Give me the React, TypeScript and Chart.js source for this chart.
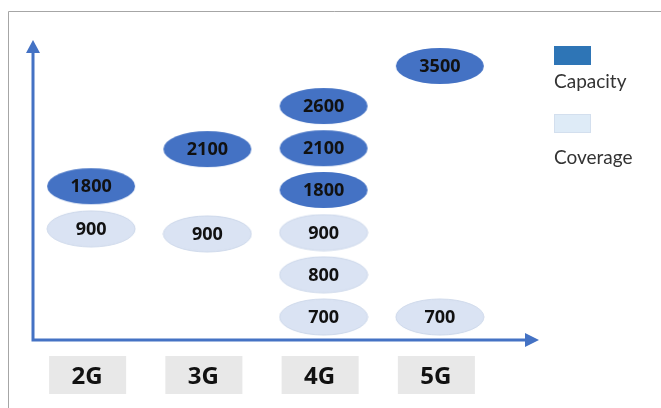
import { useEffect, useRef } from "react";
import { Chart, registerables } from "chart.js";

Chart.register(...registerables);

const categories = ["2G", "3G", "4G", "5G"];
const capacityCategory = [0, 1, 2, 2, 2, 3];
const capacityBand = [1800, 2100, 2600, 2100, 1800, 3500];
const capacityLevel = [3.1, 3.98, 5.0, 4.0, 3.01, 5.95];
const coverageCategory = [0, 1, 2, 2, 2, 3];
const coverageBand = [900, 900, 900, 800, 700, 700];
const coverageLevel = [2.09, 1.97, 2.0, 1.0, 0, 0];
const legendLabels = ["Capacity", "Coverage"];

const AXIS = "#4472C4";
const DARK = "#4472C4";
const LIGHT = "#DAE3F3";

function ellipseImage(fill: string, stroke?: string) {
  const c = document.createElement("canvas");
  c.width = 90;
  c.height = 38;
  const g = c.getContext("2d")!;
  g.beginPath();
  g.ellipse(45, 19, 44, 18, 0, 0, Math.PI * 2);
  g.fillStyle = fill;
  g.fill();
  if (stroke) {
    g.strokeStyle = stroke;
    g.lineWidth = 1;
    g.stroke();
  }
  return c;
}

const decorPlugin = {
  id: "decor",
  beforeDatasetsDraw(chart: any) {
    const ctx = chart.ctx as CanvasRenderingContext2D;
    const { left, bottom, top } = chart.chartArea;
    const xs = chart.scales.x;
    ctx.save();
    // frame
    ctx.strokeStyle = "#a6a6a6";
    ctx.lineWidth = 1;
    ctx.beginPath();
    ctx.moveTo(8.5, 408);
    ctx.lineTo(8.5, 11.5);
    ctx.lineTo(661, 11.5);
    ctx.stroke();
    // axes
    ctx.strokeStyle = AXIS;
    ctx.fillStyle = AXIS;
    ctx.lineWidth = 3;
    ctx.beginPath();
    ctx.moveTo(left, top + 8);
    ctx.lineTo(left, bottom);
    ctx.lineTo(525, bottom);
    ctx.stroke();
    ctx.beginPath();
    ctx.moveTo(left, top - 4);
    ctx.lineTo(left - 7, top + 9);
    ctx.lineTo(left + 7, top + 9);
    ctx.closePath();
    ctx.fill();
    ctx.beginPath();
    ctx.moveTo(539, bottom);
    ctx.lineTo(525, bottom - 7);
    ctx.lineTo(525, bottom + 7);
    ctx.closePath();
    ctx.fill();
    // category boxes
    categories.forEach((cat, i) => {
      const cx = xs.getPixelForValue(i) - 4;
      ctx.fillStyle = "#e8e8e8";
      ctx.fillRect(cx - 38, 356, 77, 38);
      ctx.fillStyle = "#111111";
      ctx.font = "bold 24px 'Open Sans', Lato, sans-serif";
      ctx.textAlign = "center";
      ctx.textBaseline = "middle";
      ctx.fillText(cat, cx, 377);
    });
    // legend
    ctx.fillStyle = "#2E75B6";
    ctx.fillRect(554, 46, 37, 19);
    ctx.fillStyle = "#DEEBF7";
    ctx.fillRect(554, 114, 37, 19);
    ctx.strokeStyle = "#d3dfee";
    ctx.lineWidth = 1;
    ctx.strokeRect(554.5, 114.5, 36, 18);
    ctx.fillStyle = "#333333";
    ctx.font = "19px Lato, 'Open Sans', sans-serif";
    ctx.textAlign = "left";
    ctx.textBaseline = "middle";
    ctx.fillText(legendLabels[0], 554, 82);
    ctx.fillText(legendLabels[1], 554, 158);
    ctx.restore();
  },
  afterDatasetsDraw(chart: any) {
    const ctx = chart.ctx as CanvasRenderingContext2D;
    ctx.save();
    ctx.font = "bold 18px 'Open Sans', Lato, sans-serif";
    ctx.textAlign = "center";
    ctx.textBaseline = "middle";
    ctx.fillStyle = "#111111";
    chart.data.datasets.forEach((ds: any, di: number) => {
      const meta = chart.getDatasetMeta(di);
      meta.data.forEach((el: any, i: number) => {
        ctx.fillText(String(ds.data[i].band), el.x, el.y + 1);
      });
    });
    ctx.restore();
  },
};

export default function App() {
  const ref = useRef<HTMLCanvasElement>(null);
  useEffect(() => {
    document.body.style.margin = "0";
    const darkImg = ellipseImage(DARK);
    const lightImg = ellipseImage(LIGHT, "#cdd8ea");
    const chart = new Chart(ref.current!, {
      type: "scatter",
      data: {
        datasets: [
          {
            label: legendLabels[1],
            data: coverageCategory.map((c, i) => ({ x: c, y: coverageLevel[i], band: coverageBand[i] })),
            pointStyle: lightImg as any,
            clip: false as any,
          },
          {
            label: legendLabels[0],
            data: capacityCategory.map((c, i) => ({ x: c, y: capacityLevel[i], band: capacityBand[i] })),
            pointStyle: darkImg as any,
            clip: false as any,
          },
        ] as any,
      },
      options: {
        animation: false,
        responsive: false,
        events: [],
        layout: { padding: { left: 33, right: 163, top: 44, bottom: 68 } },
        plugins: { legend: { display: false }, tooltip: { enabled: false } },
        scales: {
          x: { type: "linear", min: -0.5, max: 3.5, display: false },
          y: { type: "linear", min: -0.545, max: 6.47, display: false },
        },
      },
      plugins: [decorPlugin],
    });
    return () => chart.destroy();
  }, []);
  return (
    <div style={{ position: "fixed", left: 0, top: 0, width: 661, height: 408, background: "#fff" }}>
      <canvas ref={ref} width={661} height={408} />
    </div>
  );
}
